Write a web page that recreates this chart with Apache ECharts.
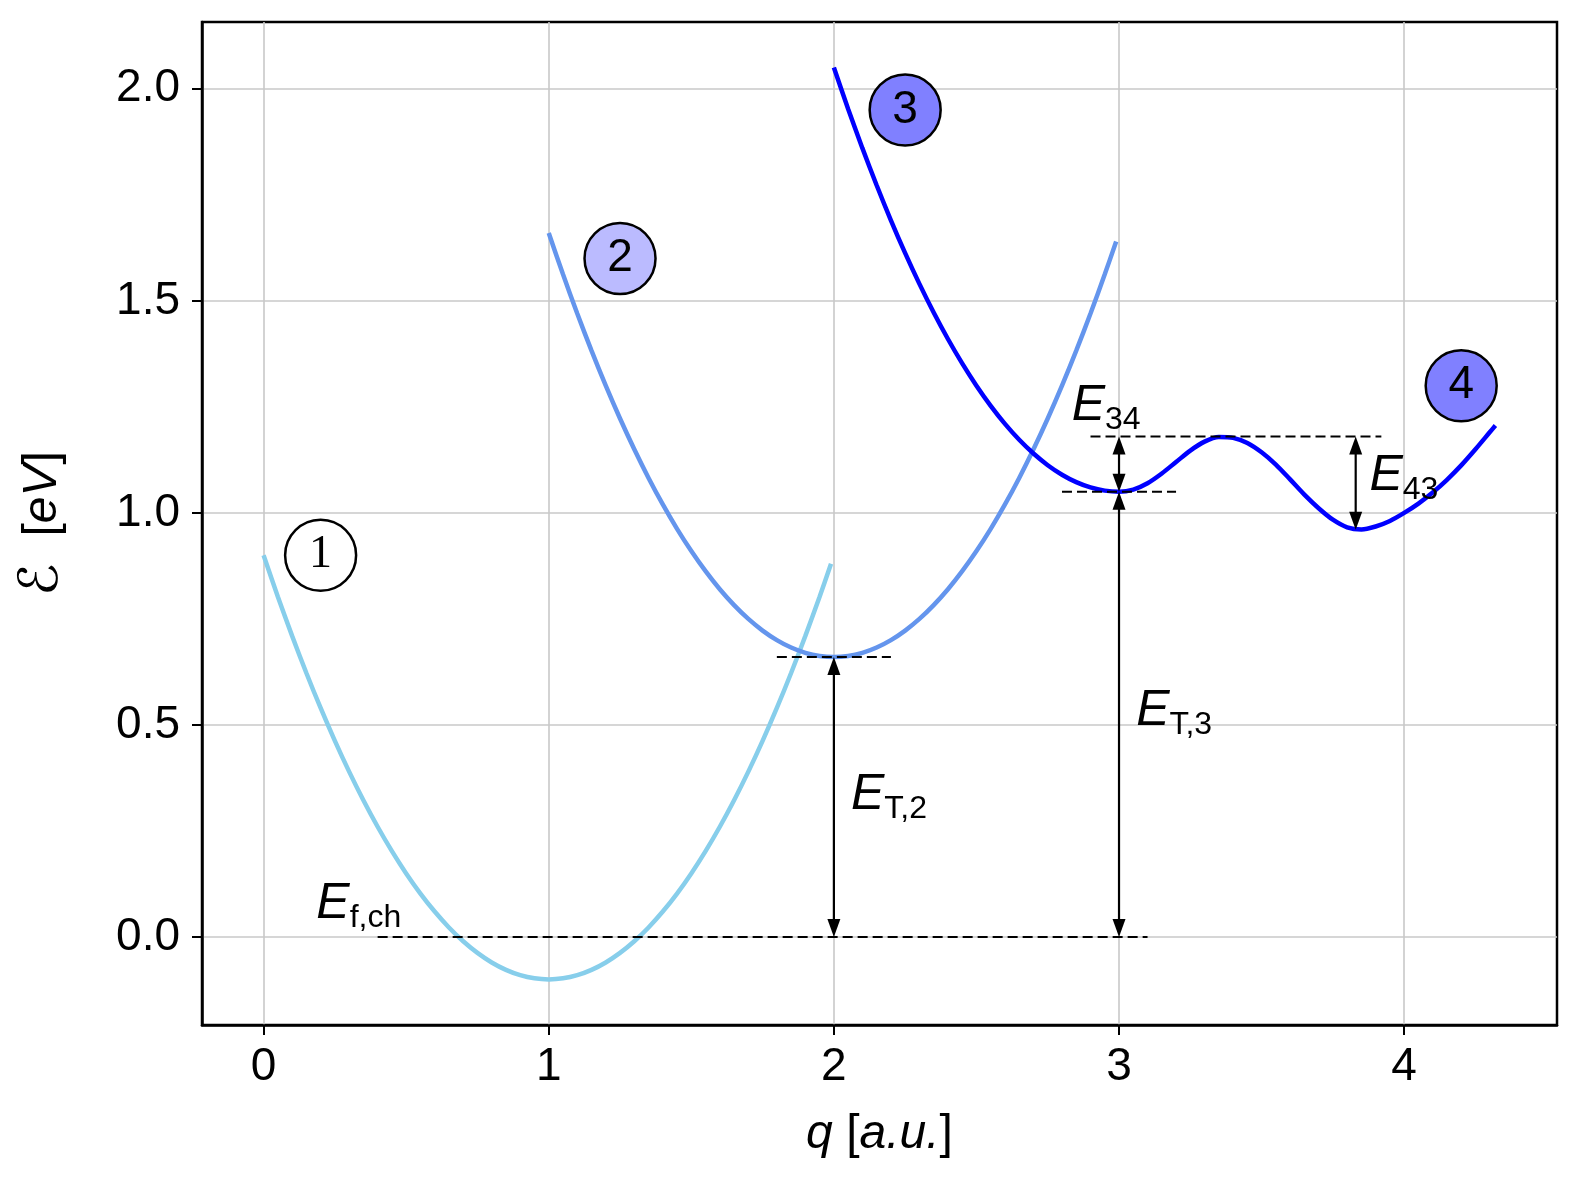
<!DOCTYPE html>
<html><head><meta charset="utf-8">
<script src="https://cdn.jsdelivr.net/npm/echarts@6/dist/echarts.min.js"></script>
<style>html,body{margin:0;padding:0;background:#fff}#c{width:1580px;height:1180px}</style>
</head><body><div id="c"></div>
<script>
// ---- data ----
const q1 = [0,0.05,0.1,0.15,0.2,0.25,0.3,0.35,0.4,0.45,0.5,0.55,0.6,0.65,0.7,0.75,0.8,0.85,0.9,0.95,1.0,1.05,1.1,1.15,1.2,1.25,1.3,1.35,1.4,1.45,1.5,1.55,1.6,1.65,1.7,1.75,1.8,1.85,1.9,1.95,1.99];
const e1 = [0.9,0.8025,0.71,0.6225,0.54,0.4625,0.39,0.3225,0.26,0.2025,0.15,0.1025,0.06,0.0225,-0.01,-0.0375,-0.06,-0.0775,-0.09,-0.0975,-0.1,-0.0975,-0.09,-0.0775,-0.06,-0.0375,-0.01,0.0225,0.06,0.1025,0.15,0.2025,0.26,0.3225,0.39,0.4625,0.54,0.6225,0.71,0.8025,0.88];
const q2 = [1.0,1.05,1.1,1.15,1.2,1.25,1.3,1.35,1.4,1.45,1.5,1.55,1.6,1.65,1.7,1.75,1.8,1.85,1.9,1.95,2.0,2.05,2.1,2.15,2.2,2.25,2.3,2.35,2.4,2.45,2.5,2.55,2.6,2.65,2.7,2.75,2.8,2.85,2.9,2.95,2.99];
const e2 = [1.66,1.5625,1.47,1.3825,1.30,1.2225,1.15,1.0825,1.02,0.9625,0.91,0.8625,0.82,0.7825,0.75,0.7225,0.70,0.6825,0.67,0.6625,0.66,0.6625,0.67,0.6825,0.70,0.7225,0.75,0.7825,0.82,0.8625,0.91,0.9625,1.02,1.0825,1.15,1.2225,1.30,1.3825,1.47,1.5625,1.64];
const q3 = [2.0,2.05,2.1,2.15,2.2,2.25,2.3,2.35,2.4,2.45,2.5,2.55,2.6,2.65,2.7,2.75,2.8,2.85,2.9,2.95,3.0,3.05,3.1,3.15,3.2,3.25,3.3,3.35,3.4,3.45,3.5,3.55,3.6,3.65,3.7,3.75,3.8,3.85,3.9,3.95,4.0,4.05,4.1,4.15,4.2,4.25,4.3,4.32];
const e3 = [2.05,1.9525,1.86,1.7725,1.69,1.6125,1.54,1.4725,1.41,1.3525,1.30,1.2525,1.21,1.1725,1.14,1.1125,1.09,1.0725,1.06,1.0525,1.05,1.055,1.07,1.093,1.12,1.147,1.168,1.179,1.177,1.165,1.143,1.114,1.079,1.043,1.011,0.984,0.966,0.961,0.968,0.981,1.0,1.022,1.048,1.078,1.112,1.15,1.19,1.206];

const xTicks = [0, 1, 2, 3, 4];
const yTicks = [0, 0.5, 1.0, 1.5, 2.0];

const dashY  = [0, 0.66, 1.05, 1.18];
const dashX0 = [0.4, 1.8, 2.8, 2.9];
const dashX1 = [3.1, 2.2, 3.2, 3.92];

const arrowX  = [2, 3, 3, 3.83];
const arrowY0 = [0, 0, 1.05, 0.96];
const arrowY1 = [0.66, 1.05, 1.18, 1.18];

const stateNames = ['1', '2', '3', '4'];
const stateX = [0.2, 1.25, 2.25, 4.2];
const stateY = [0.9, 1.6, 1.95, 1.3];
const stateColors = ['#ffffff', '#bbbbff', '#8080ff', '#8080ff'];

const labelSubs = ['f,ch', 'T,2', 'T,3', '34', '43'];
const labelX = [0.185, 2.06, 3.06, 2.834, 3.878];
const labelY = [0.05, 0.307, 0.505, 1.223, 1.058];

// ---- chart ----
const FONT = 'Liberation Sans';
const zip = (xs, ys) => xs.map((x, i) => [x, ys[i]]);
const chart = echarts.init(document.getElementById('c'), null, {renderer: 'canvas'});

const curveSeries = [[q1, e1, '#87ceeb'], [q2, e2, '#6495ed'], [q3, e3, '#0000ff']].map(([xs, ys, c]) => ({
  type: 'line', data: zip(xs, ys), showSymbol: false, symbol: 'none', smooth: 0.3,
  lineStyle: {color: c, width: 4.5}, z: 3, silent: true
}));

const dashSeries = dashY.map((y, i) => ({
  type: 'line', data: [[dashX0[i], y], [dashX1[i], y]], symbol: 'none',
  lineStyle: {color: '#000', width: 2, type: [10, 5]}, z: 4, silent: true
}));

const arrowSeries = {
  type: 'custom', z: 5, silent: true,
  data: arrowX.map((x, i) => [x, arrowY0[i], arrowY1[i]]),
  encode: {x: 0, y: [1, 2]},
  renderItem: function (params, api) {
    const x = api.value(0);
    const p0 = api.coord([x, api.value(1)]);
    const p1 = api.coord([x, api.value(2)]);
    const dx = p1[0] - p0[0], dy = p1[1] - p0[1];
    const len = Math.hypot(dx, dy);
    const ux = dx / len, uy = dy / len;
    const nx = -uy, ny = ux;
    const L = 18, W = 6.5;
    const head = (tip, sx, sy) => {
      const bx = tip[0] - sx * L, by = tip[1] - sy * L;
      return {type: 'polygon', shape: {points: [[tip[0], tip[1]], [bx + nx * W, by + ny * W], [bx - nx * W, by - ny * W]]}, style: {fill: '#000'}};
    };
    return {type: 'group', children: [
      {type: 'line', shape: {x1: p0[0] + ux * L * 0.8, y1: p0[1] + uy * L * 0.8, x2: p1[0] - ux * L * 0.8, y2: p1[1] - uy * L * 0.8}, style: {stroke: '#000', lineWidth: 2.2}},
      head(p1, ux, uy),
      head(p0, -ux, -uy)
    ]};
  }
};

const stateSeries = {
  type: 'scatter', z: 6, silent: true, symbol: 'circle', symbolSize: 71,
  data: stateX.map((x, i) => ({
    value: [x, stateY[i]],
    itemStyle: {color: stateColors[i], borderColor: '#000', borderWidth: 2.5, opacity: 1},
    label: {show: true, position: 'inside', formatter: stateNames[i], color: '#000', fontSize: 46,
      fontFamily: i === 0 ? 'Liberation Serif' : FONT}
  }))
};

const textSeries = {
  type: 'custom', z: 7, silent: true,
  data: labelX.map((x, i) => [x, labelY[i]]),
  encode: {x: 0, y: 1},
  renderItem: function (params, api) {
    const p = api.coord([api.value(0), api.value(1)]);
    return {type: 'text', x: p[0], y: p[1] - 37, style: {
      text: '{e|E}{s|' + labelSubs[params.dataIndex] + '}',
      align: 'left', verticalAlign: 'top',
      rich: {
        e: {fontSize: 50, fontStyle: 'italic', fontFamily: FONT, lineHeight: 52, verticalAlign: 'top', fill: '#000', color: '#000'},
        s: {fontSize: 32, fontFamily: FONT, lineHeight: 32, padding: [23, 0, 0, 0], verticalAlign: 'top', fill: '#000', color: '#000'}
      }
    }};
  }
};

chart.setOption({
  animation: false,
  backgroundColor: '#fff',
  grid: {left: 202, right: 23, top: 22, bottom: 155, show: true, borderColor: '#000', borderWidth: 2.5, backgroundColor: 'transparent'},
  xAxis: {
    type: 'value', min: -0.216, max: 4.536,
    name: '{i|q} [{i|a.u.}]', nameLocation: 'middle', nameGap: 86,
    nameTextStyle: {fontSize: 48, fontFamily: FONT, color: '#000', rich: {i: {fontSize: 48, fontStyle: 'italic', fontFamily: FONT, color: '#000'}}},
    axisLine: {show: true, onZero: false, lineStyle: {color: '#000', width: 2.5}},
    axisTick: {show: true, length: 10, lineStyle: {color: '#000', width: 2}, customValues: xTicks},
    axisLabel: {fontSize: 46, fontFamily: FONT, color: '#000', margin: 19, customValues: xTicks, formatter: v => String(v)},
    splitLine: {show: true, lineStyle: {color: '#c8c8c8', width: 1.6}}
  },
  yAxis: {
    type: 'value', min: -0.2075, max: 2.1575,
    name: '{s|ℰ}  [{i|eV}]', nameLocation: 'middle', nameGap: 132,
    nameTextStyle: {fontSize: 48, fontFamily: FONT, color: '#000', rich: {i: {fontSize: 48, fontStyle: 'italic', fontFamily: FONT, color: '#000'}, s: {fontSize: 54, fontFamily: 'DejaVu Sans', color: '#000'}}},
    axisLine: {show: true, onZero: false, lineStyle: {color: '#000', width: 2.5}},
    axisTick: {show: true, length: 10, lineStyle: {color: '#000', width: 2}, customValues: yTicks},
    axisLabel: {fontSize: 46, fontFamily: FONT, color: '#000', margin: 22, customValues: yTicks, formatter: v => v.toFixed(1)},
    splitLine: {show: true, lineStyle: {color: '#c8c8c8', width: 1.6}}
  },
  series: [...curveSeries, ...dashSeries, arrowSeries, stateSeries, textSeries]
});
</script>
</body></html>
